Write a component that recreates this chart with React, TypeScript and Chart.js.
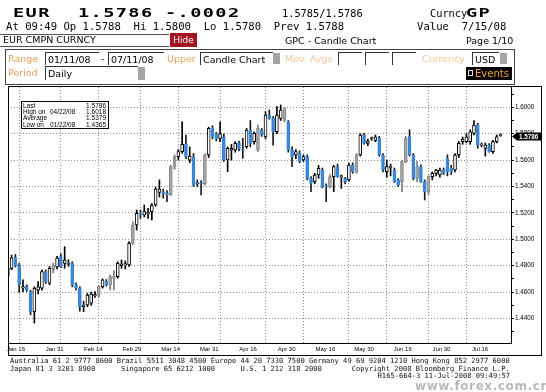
import React, { useEffect, useRef } from 'react';
import { Chart, registerables } from 'chart.js';

Chart.register(...registerables);

// ---------- data ----------
const FIRST_DAY = '2008-01-11';
const LAST_DAY = '2008-07-11';

function weekdaysBetween(a: string, b: string): string[] {
  const out: string[] = [];
  const d = new Date(a + 'T00:00:00Z');
  const end = new Date(b + 'T00:00:00Z');
  while (d <= end) {
    const wd = d.getUTCDay();
    if (wd !== 0 && wd !== 6) out.push(d.toISOString().slice(0, 10));
    d.setUTCDate(d.getUTCDate() + 1);
  }
  return out;
}
const dates = weekdaysBetween(FIRST_DAY, LAST_DAY);

const opens = [
  1.4720, 1.4780, 1.4861, 1.4805, 1.4630, 1.4641, 1.4603, 1.4452, 1.4615, 1.4629,
  1.4755, 1.4667, 1.4770, 1.4790, 1.4868, 1.4818, 1.4810, 1.4818, 1.4654, 1.4629,
  1.4489, 1.4502, 1.4515, 1.4572, 1.4578, 1.4641, 1.4679, 1.4654, 1.4705, 1.4717,
  1.4800, 1.4805, 1.4805, 1.4975, 1.5108, 1.5197, 1.5184, 1.5195, 1.5209, 1.5260,
  1.5355, 1.5360, 1.5350, 1.5340, 1.5552, 1.5626, 1.5664, 1.5719, 1.5600, 1.5626,
  1.5420, 1.5428, 1.5422, 1.5639, 1.5840, 1.5795, 1.5765, 1.5777, 1.5601, 1.5675,
  1.5677, 1.5727, 1.5680, 1.5702, 1.5828, 1.5740, 1.5677, 1.5828, 1.5777, 1.5941,
  1.5916, 1.5815, 1.5916, 1.5903, 1.5891, 1.5677, 1.5639, 1.5651, 1.5601, 1.5626,
  1.5462, 1.5437, 1.5487, 1.5525, 1.5405, 1.5399, 1.5475, 1.5550, 1.5470, 1.5462,
  1.5450, 1.5563, 1.5512, 1.5639, 1.5790, 1.5727, 1.5760, 1.5750, 1.5765, 1.5639,
  1.5512, 1.5545, 1.5525, 1.5450, 1.5437, 1.5588, 1.5777, 1.5639, 1.5462, 1.5550,
  1.5437, 1.5361, 1.5475, 1.5500, 1.5487, 1.5525, 1.5613, 1.5538, 1.5525, 1.5639,
  1.5740, 1.5740, 1.5740, 1.5803, 1.5866, 1.5714, 1.5689, 1.5714, 1.5664, 1.5740,
  1.5788,
];
const highs = [
  1.4800, 1.4880, 1.4885, 1.4818, 1.4692, 1.4655, 1.4615, 1.4640, 1.4680, 1.4768,
  1.4768, 1.4793, 1.4818, 1.4870, 1.4890, 1.4944, 1.4845, 1.4830, 1.4670, 1.4640,
  1.4530, 1.4590, 1.4600, 1.4604, 1.4650, 1.4700, 1.4695, 1.4730, 1.4760, 1.4830,
  1.4843, 1.4836, 1.4982, 1.5133, 1.5222, 1.5222, 1.5260, 1.5235, 1.5270, 1.5395,
  1.5450, 1.5380, 1.5370, 1.5560, 1.5640, 1.5680, 1.5891, 1.5790, 1.5700, 1.5650,
  1.5450, 1.5445, 1.5650, 1.5850, 1.5860, 1.5810, 1.5891, 1.5800, 1.5700, 1.5720,
  1.5740, 1.5745, 1.5765, 1.5840, 1.5900, 1.5815, 1.5866, 1.5840, 1.5967, 1.5980,
  1.5930, 1.6005, 1.6018, 1.6000, 1.5900, 1.5700, 1.5680, 1.5670, 1.5640, 1.5640,
  1.5475, 1.5500, 1.5560, 1.5540, 1.5420, 1.5490, 1.5560, 1.5570, 1.5487, 1.5470,
  1.5575, 1.5580, 1.5650, 1.5800, 1.5803, 1.5760, 1.5775, 1.5790, 1.5780, 1.5650,
  1.5600, 1.5570, 1.5540, 1.5460, 1.5600, 1.5780, 1.5830, 1.5650, 1.5588, 1.5565,
  1.5450, 1.5480, 1.5510, 1.5530, 1.5540, 1.5540, 1.5640, 1.5560, 1.5650, 1.5740,
  1.5775, 1.5800, 1.5830, 1.5900, 1.5880, 1.5730, 1.5730, 1.5725, 1.5750, 1.5790,
  1.5800,
];
const lows = [
  1.4700, 1.4770, 1.4790, 1.4598, 1.4603, 1.4605, 1.4427, 1.4365, 1.4585, 1.4615,
  1.4665, 1.4655, 1.4745, 1.4775, 1.4785, 1.4780, 1.4795, 1.4640, 1.4615, 1.4455,
  1.4452, 1.4490, 1.4500, 1.4560, 1.4560, 1.4630, 1.4645, 1.4616, 1.4616, 1.4705,
  1.4780, 1.4775, 1.4795, 1.4960, 1.5070, 1.5159, 1.5170, 1.5159, 1.5146, 1.5250,
  1.5320, 1.5311, 1.5285, 1.5330, 1.5530, 1.5600, 1.5650, 1.5610, 1.5580, 1.5400,
  1.5400, 1.5336, 1.5410, 1.5620, 1.5760, 1.5745, 1.5740, 1.5590, 1.5512, 1.5600,
  1.5660, 1.5670, 1.5613, 1.5690, 1.5700, 1.5720, 1.5664, 1.5780, 1.5760, 1.5910,
  1.5714, 1.5800, 1.5900, 1.5890, 1.5660, 1.5550, 1.5610, 1.5580, 1.5590, 1.5450,
  1.5361, 1.5420, 1.5462, 1.5390, 1.5285, 1.5390, 1.5361, 1.5470, 1.5386, 1.5420,
  1.5440, 1.5500, 1.5500, 1.5630, 1.5720, 1.5710, 1.5750, 1.5740, 1.5630, 1.5510,
  1.5470, 1.5480, 1.5430, 1.5400, 1.5361, 1.5580, 1.5630, 1.5450, 1.5437, 1.5430,
  1.5298, 1.5340, 1.5450, 1.5480, 1.5470, 1.5490, 1.5480, 1.5490, 1.5510, 1.5620,
  1.5720, 1.5730, 1.5720, 1.5790, 1.5690, 1.5700, 1.5630, 1.5660, 1.5650, 1.5730,
  1.5780,
];
const closes = [
  1.4780, 1.4860, 1.4800, 1.4654, 1.4641, 1.4616, 1.4452, 1.4629, 1.4640, 1.4755,
  1.4679, 1.4780, 1.4800, 1.4858, 1.4793, 1.4843, 1.4818, 1.4654, 1.4629, 1.4490,
  1.4502, 1.4578, 1.4585, 1.4580, 1.4641, 1.4692, 1.4654, 1.4717, 1.4717, 1.4818,
  1.4812, 1.4815, 1.4970, 1.5108, 1.5197, 1.5182, 1.5209, 1.5200, 1.5260, 1.5380,
  1.5380, 1.5345, 1.5338, 1.5550, 1.5626, 1.5664, 1.5719, 1.5626, 1.5630, 1.5411,
  1.5428, 1.5420, 1.5638, 1.5840, 1.5777, 1.5760, 1.5800, 1.5601, 1.5689, 1.5690,
  1.5727, 1.5689, 1.5675, 1.5828, 1.5727, 1.5803, 1.5840, 1.5790, 1.5941, 1.5916,
  1.5815, 1.5942, 1.5980, 1.5991, 1.5677, 1.5626, 1.5664, 1.5588, 1.5626, 1.5462,
  1.5424, 1.5487, 1.5538, 1.5399, 1.5395, 1.5475, 1.5550, 1.5475, 1.5480, 1.5437,
  1.5563, 1.5512, 1.5639, 1.5790, 1.5727, 1.5745, 1.5768, 1.5775, 1.5639, 1.5525,
  1.5550, 1.5552, 1.5437, 1.5412, 1.5588, 1.5765, 1.5639, 1.5462, 1.5550, 1.5437,
  1.5361, 1.5475, 1.5500, 1.5525, 1.5525, 1.5500, 1.5512, 1.5512, 1.5639, 1.5727,
  1.5760, 1.5777, 1.5815, 1.5866, 1.5714, 1.5720, 1.5714, 1.5664, 1.5740, 1.5777,
  1.5786,
];
// candle class per day: u = hollow (up), d = blue (down), g = grey
const candleKinds = (
  'uuddudduuu' + 'duguduuddd' + 'uuuugudggu' + 'uuuguduuuu' + 'uddgguudud' +
  'udgudduduu' + 'uddudugdud' + 'duugddudud' + 'duuddgudud' + 'udguduuudd' +
  'uuddggddgd' + 'dguuuddduu' + 'uuuuduuduu' + 'u'
).split('');

const xTickLabels = ['Jan 16', 'Jan 31', 'Feb 14', 'Feb 29', 'Mar 14', 'Mar 31', 'Apr 16', 'Apr 30', 'May 16', 'May 30', 'Jun 16', 'Jun 30', 'Jul 16'];
const gridDates = ['2008-01-16', '2008-01-31', '2008-02-14', '2008-02-29', '2008-03-14', '2008-03-31', '2008-04-16', '2008-04-30', '2008-05-16', '2008-05-30', '2008-06-16', '2008-06-30'];
const yMajorTicks = [1.44, 1.46, 1.48, 1.50, 1.52, 1.54, 1.56, 1.58, 1.60];
const yMinorTicks = [1.43, 1.45, 1.47, 1.49, 1.51, 1.53, 1.55, 1.57, 1.59, 1.61];

const statLabels = ['Last', 'High on', 'Average', 'Low on'];
const statDates = ['', '04/22/08', '', '01/22/08'];
const statValues = ['1.5786', '1.6018', '1.5379', '1.4365'];

// ---------- styles ----------
const FILL: Record<string, string> = { u: '#ffffff', d: '#3a86da', g: '#a8a8a8' };
const EDGE: Record<string, string> = { u: '#000000', d: '#3a86da', g: '#868686' };
const WICK: Record<string, string> = { u: '#000000', d: '#1a1a1a', g: '#7a7a7a' };

function kindAt(i: number): string {
  const k = candleKinds[i];
  if (k) return k;
  return closes[i] >= opens[i] ? 'u' : 'd';
}

export default function App() {
  const ref = useRef<HTMLCanvasElement>(null);

  useEffect(() => {
    if (!ref.current) return;
    const gridIdx = gridDates.map((d) => dates.indexOf(d)).filter((i) => i >= 0);
    const wickData = dates.map((_, i) => ({ x: i, y: [lows[i], highs[i]] }));
    const bodyData = dates.map((_, i) => ({ x: i, y: [opens[i], closes[i]] }));

    const decor = {
      id: 'decor',
      afterDraw(chart: any) {
        const { ctx, chartArea: a, scales } = chart;
        ctx.save();
        ctx.strokeStyle = '#000';
        ctx.lineWidth = 1;
        // plot frame (left + bottom)
        ctx.beginPath();
        ctx.moveTo(a.left + 0.5, a.top);
        ctx.lineTo(a.left + 0.5, a.bottom + 0.5);
        ctx.lineTo(a.right, a.bottom + 0.5);
        ctx.stroke();
        // outer box
        ctx.strokeRect(a.left + 0.5, a.top - 0.5, 533, 269);

        // stats box
        const lx = a.left + 13, ly = a.top + 14, lw = 87, lh = 27;
        ctx.fillStyle = '#fff';
        ctx.fillRect(lx, ly, lw, lh);
        ctx.strokeRect(lx + 0.5, ly + 0.5, lw, lh);
        ctx.fillStyle = '#000';
        ctx.font = '6.5px "Liberation Sans", Arial, sans-serif';
        ctx.textBaseline = 'alphabetic';
        statLabels.forEach((lab, k) => {
          const by = ly + 7 + k * 6.2;
          ctx.textAlign = 'left';
          ctx.fillText(lab, lx + 2, by);
          if (statDates[k]) ctx.fillText(statDates[k], lx + 29, by);
          ctx.textAlign = 'right';
          ctx.fillText(statValues[k], lx + lw - 2, by);
        });

        // last price badge
        const last = closes[closes.length - 1];
        const yy = Math.round(scales.y.getPixelForValue(last)) + 0.5;
        const bx = a.right + 1;
        ctx.fillStyle = '#000';
        ctx.beginPath();
        ctx.moveTo(bx, yy);
        ctx.lineTo(bx + 5, yy - 4);
        ctx.lineTo(bx + 30, yy - 4);
        ctx.lineTo(bx + 30, yy + 4);
        ctx.lineTo(bx + 5, yy + 4);
        ctx.closePath();
        ctx.fill();
        ctx.fillStyle = '#fff';
        ctx.font = 'bold 6.3px "Liberation Sans", Arial, sans-serif';
        ctx.textAlign = 'left';
        ctx.textBaseline = 'middle';
        ctx.fillText(last.toFixed(4), bx + 7, yy + 0.5);
        ctx.restore();
      },
    };

    const chart = new Chart(ref.current, {
      type: 'bar',
      data: {
        datasets: [
          {
            data: bodyData as any,
            grouped: false,
            barThickness: 3,
            borderSkipped: false,
            borderWidth: 1,
            minBarLength: 1,
            backgroundColor: (c: any) => FILL[kindAt(c.dataIndex)],
            borderColor: (c: any) => EDGE[kindAt(c.dataIndex)],
            order: 1,
            xAxisID: 'x',
            yAxisID: 'y',
          },
          {
            data: wickData as any,
            grouped: false,
            barThickness: 1,
            borderWidth: 0,
            backgroundColor: (c: any) => WICK[kindAt(c.dataIndex)],
            order: 2,
            xAxisID: 'x',
            yAxisID: 'y',
          },
        ],
      },
      options: {
        animation: false,
        responsive: false,
        maintainAspectRatio: false,
        events: [],
        layout: { padding: { left: 8, top: 87, right: 5, bottom: 36 } },
        plugins: { legend: { display: false }, tooltip: { enabled: false } },
        scales: {
          x: {
            type: 'linear',
            position: 'bottom',
            offset: false,
            min: 0.05,
            max: 132.77,
            afterBuildTicks: (s: any) => {
              s.ticks = gridIdx.map((v) => ({ value: v }));
            },
            afterFit: (s: any) => {
              s.height = 0;
            },
            ticks: { display: false },
            grid: { offset: false, color: '#8c8c8c', lineWidth: 1, drawTicks: false },
            border: { display: false, dash: [1, 2] },
          },
          x2: {
            type: 'linear',
            position: 'bottom',
            offset: false,
            min: -0.207,
            max: 12.8,
            afterBuildTicks: (s: any) => {
              s.ticks = xTickLabels.map((_, i) => ({ value: i }));
            },
            afterFit: (s: any) => {
              s.height = 13;
            },
            ticks: {
              callback: (_v: any, i: number) => xTickLabels[i],
              font: { size: 6, family: '"Liberation Sans", Arial, sans-serif' },
              color: '#000',
              padding: 3,
              maxRotation: 0,
              autoSkip: false,
            },
            grid: { display: false, drawTicks: false },
            border: { display: false },
          },
          y: {
            type: 'linear',
            position: 'right',
            beginAtZero: false,
            min: 1.4214,
            max: 1.6154,
            afterBuildTicks: (s: any) => {
              s.ticks = yMajorTicks.concat(yMinorTicks).sort((p, q) => p - q).map((v) => ({ value: v }));
            },
            afterFit: (s: any) => {
              s.width = 30;
            },
            ticks: {
              callback: (v: any) => (Math.round(v * 100) % 2 === 0 ? Number(v).toFixed(4) : ''),
              font: { size: 6.3, family: '"Liberation Sans", Arial, sans-serif' },
              color: '#000',
              padding: 1,
              autoSkip: false,
            },
            grid: {
              color: (c: any) => (Math.round(c.tick.value * 100) % 2 === 0 ? '#8c8c8c' : 'rgba(0,0,0,0)'),
              tickColor: '#000',
              tickLength: 3,
              drawTicks: true,
            },
            border: { display: true, color: '#000', width: 1, dash: [1, 2] },
          },
        },
      },
      plugins: [decor],
    } as any);
    return () => chart.destroy();
  }, []);

  const mono = "'DejaVu Sans Mono', monospace";
  const sans = "'DejaVu Sans', sans-serif";
  const abs = (l: number, t: number, extra: any = {}) => ({ position: 'absolute' as const, left: l, top: t, whiteSpace: 'pre' as const, ...extra });
  const big = { fontFamily: mono, fontWeight: 'bold', fontSize: 12, lineHeight: '12px', letterSpacing: 0.9, transform: 'scaleX(1.55)', transformOrigin: 'left top' };
  const line = { fontFamily: mono, fontSize: 10.6, lineHeight: '11px' };
  const small = { fontFamily: sans, fontSize: 9.5, lineHeight: '12px' };
  const orange = '#e3a05a';
  const pale = '#f0c79c';
  const inBox = (l: number, t: number, w: number, h: number, text = '') => (
    <div style={abs(l, t, { width: w, height: h, borderTop: '1px solid #333', borderLeft: '1px solid #333', background: '#fff', ...small, lineHeight: h + 'px', paddingLeft: 2, boxSizing: 'border-box' })}>{text}</div>
  );
  const sq = (l: number, t: number, h: number) => <div style={abs(l, t, { width: 7, height: h, background: '#a4a4a4' })} />;

  return (
    <div style={{ position: 'absolute', left: 0, top: 0, width: 546, height: 392, background: '#fff', overflow: 'hidden', color: '#000' }}>
      <canvas ref={ref} width={546} height={392} style={{ position: 'absolute', left: 0, top: 0, width: 546, height: 392 }} />

      {/* line 1 */}
      <div style={abs(13, 7, big)}>EUR</div>
      <div style={abs(78, 7, big)}>1.5786</div>
      <div style={abs(165, 7, big)}>-.0002</div>
      <div style={abs(282, 8, { ...line, fontSize: 10.3 })}>1.5785/1.5786</div>
      <div style={abs(430, 8, { ...line, fontSize: 10.3 })}>Curncy</div>
      <div style={abs(466, 7, big)}>GP</div>

      {/* line 2 */}
      <div style={abs(6, 20.5, line)}>At 09:49 Op 1.5788  Hi 1.5800  Lo 1.5780  Prev 1.5788</div>
      <div style={abs(417, 20.5, line)}>Value  7/15/08</div>

      {/* line 3 */}
      <div style={abs(0, 34, { width: 169, height: 13, borderTop: '1px solid #555', borderBottom: '1px solid #555', boxSizing: 'border-box' })} />
      <div style={abs(3, 34, small)}>EUR CMPN CURNCY</div>
      <div style={abs(170, 33, { width: 27, height: 14, background: '#a3161f', color: '#fff', ...small, fontSize: 9, lineHeight: '14px', textAlign: 'center' })}>Hide</div>
      <div style={abs(285, 35, small)}>GPC - Candle Chart</div>
      <div style={abs(466, 35, small)}>Page 1/10</div>

      {/* settings frame */}
      <div style={abs(5, 49, { width: 510, height: 36, border: '1px solid #444', boxSizing: 'border-box' })} />
      <div style={abs(8, 53, { ...small, color: orange })}>Range</div>
      {inBox(45, 52, 54, 13, '01/11/08')}
      <div style={abs(101, 53, small)}>-</div>
      {inBox(108, 52, 56, 13, '07/11/08')}
      <div style={abs(167, 53, { ...small, color: orange })}>Upper</div>
      {inBox(200, 52, 73, 13, 'Candle Chart')}
      {sq(273, 53, 11)}
      <div style={abs(285, 53, { ...small, color: pale })}>Mov. Avgs</div>
      {inBox(338, 52, 24, 13)}
      {inBox(365, 52, 24, 13)}
      {inBox(392, 52, 24, 13)}
      <div style={abs(422, 53, { ...small, color: pale })}>Currency</div>
      {inBox(472, 52, 27, 13, 'USD')}
      {sq(500, 53, 11)}

      <div style={abs(8, 67, { ...small, color: orange })}>Period</div>
      {inBox(45, 66, 93, 14, 'Daily')}
      {sq(138, 67, 13)}
      <div style={abs(466, 67, { width: 46, height: 13, background: '#000' })} />
      <div style={abs(468, 70, { width: 5, height: 6, border: '1px solid #ddd', boxSizing: 'border-box' })} />
      <div style={abs(475, 67, { ...small, fontSize: 10, lineHeight: '13px', color: '#f0a23a' })}>Events</div>

      {/* footer */}
      <div style={abs(10, 357, { fontFamily: mono, fontSize: 7.1, lineHeight: '7.5px', color: '#111' })}>
        {'Australia 61 2 9777 8600 Brazil 5511 3048 4500 Europe 44 20 7330 7500 Germany 49 69 9204 1210 Hong Kong 852 2977 6000\n' +
          'Japan 81 3 3201 8900      Singapore 65 6212 1000      U.S. 1 212 318 2000       Copyright 2008 Bloomberg Finance L.P.'}
      </div>
      <div style={abs(0, 372, { width: 510, textAlign: 'right', fontFamily: mono, fontSize: 7.1, lineHeight: '7.5px', color: '#111' })}>H165-664-3 11-Jul-2008 09:49:57</div>
      <div style={abs(415, 380, { fontFamily: sans, fontWeight: 'bold', fontSize: 12, lineHeight: '13px', letterSpacing: 0.6, color: '#b9b9b9' })}>www.forex.com.cn</div>
    </div>
  );
}
